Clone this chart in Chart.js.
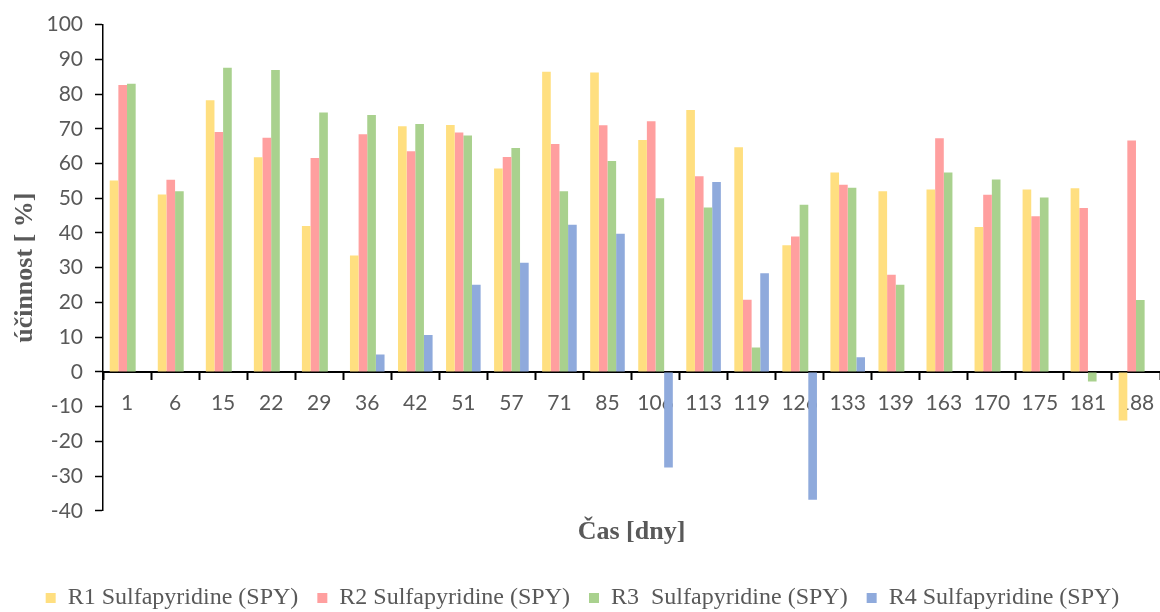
<!DOCTYPE html>
<html>
<head>
<meta charset="utf-8">
<script src="https://cdn.jsdelivr.net/npm/chart.js@4"></script>
<style>
  html, body { margin: 0; padding: 0; background: #fff; }
  #wrap { width: 1160px; height: 612px; }
</style>
</head>
<body>
<div id="wrap"><canvas id="myChart"></canvas></div>
<script>
// dny odberu
var days = ['1', '6', '15', '22', '29', '36', '42', '51', '57', '71', '85', '106', '113', '119', '126', '133', '139', '163', '170', '175', '181', '188'];

// ucinnost jednotlivych reaktoru [%]
var r1 = [55.1, 51.1, 78.2, 61.8, 42.0, 33.5, 70.7, 71.1, 58.6, 86.4, 86.2, 66.8, 75.4, 64.7, 36.5, 57.4, 52.0, 52.5, 41.7, 52.5, 52.9, -14.0];
var r2 = [82.6, 55.3, 69.1, 67.4, 61.6, 68.4, 63.5, 68.9, 61.9, 65.6, 71.0, 72.2, 56.3, 20.8, 39.0, 53.9, 28.0, 67.3, 51.0, 44.8, 47.2, 66.6];
var r3 = [83.0, 52.0, 87.6, 86.9, 74.7, 74.0, 71.4, 68.1, 64.5, 52.0, 60.7, 50.0, 47.3, 7.0, 48.1, 53.0, 25.1, 57.4, 55.4, 50.2, -2.8, 20.7];
var r4 = [null, null, null, null, null, 5.0, 10.6, 25.1, 31.4, 42.4, 39.8, -27.5, 54.7, 28.4, -36.8, 4.2, null, null, null, null, null, null];

var seriesNames = ['R1 Sulfapyridine (SPY)', 'R2 Sulfapyridine (SPY)', 'R3  Sulfapyridine (SPY)', 'R4 Sulfapyridine (SPY)'];
var yMin = -40, yMax = 100, yStep = 10;

var grey = '#595959';
var tickFont = { family: 'Lato', size: 21 };

var ctx = document.getElementById('myChart').getContext('2d');

var chart = new Chart(ctx, {
    type: 'bar',
    data: {
        labels: days,
        datasets: [{
            label: seriesNames[0],
            backgroundColor: '#FFDF80',
            data: r1
        },
        {
            label: seriesNames[1],
            backgroundColor: '#FF9F9F',
            data: r2
        },
        {
            label: seriesNames[2],
            backgroundColor: '#A9D18E',
            data: r3
        },
        {
            label: seriesNames[3],
            backgroundColor: '#8FAADC',
            data: r4
        }]
    },
    options: {
        responsive: true,
        maintainAspectRatio: false,
        animation: false,
        layout: {
            padding: { top: 23, right: -5, bottom: -8, left: 0 }
        },
        datasets: {
            bar: {
                categoryPercentage: 0.72,
                barPercentage: 1.0,
                borderWidth: 0
            }
        },
        scales: {
            x: {
                position: { y: 0 },
                // osa x sahá až k pravému okraji
                afterFit: function (scale) { scale.paddingLeft = 0; scale.paddingRight = 0; },
                grid: {
                    display: true,
                    offset: true,
                    drawOnChartArea: false,
                    drawTicks: true,
                    tickLength: 7,
                    tickWidth: 2,
                    tickColor: '#000'
                },
                border: { display: true, color: '#000', width: 2 },
                ticks: {
                    color: grey,
                    font: tickFont,
                    padding: 12,
                    maxRotation: 0,
                    autoSkip: false
                }
            },
            y: {
                min: yMin,
                max: yMax,
                afterFit: function (scale) { scale.width = 103; },
                grid: {
                    display: true,
                    drawOnChartArea: false,
                    drawTicks: true,
                    tickLength: 8,
                    tickWidth: 1.5,
                    tickColor: '#000'
                },
                border: { display: true, color: '#000', width: 1.5 },
                ticks: {
                    stepSize: yStep,
                    color: grey,
                    font: tickFont,
                    padding: 12
                },
                title: {
                    display: true,
                    text: 'účinnost [ %]',
                    color: grey,
                    font: { family: 'Liberation Serif', size: 26, weight: 'bold' },
                    padding: { top: 10, bottom: 0 }
                }
            }
        },
        plugins: {
            title: {
                display: true,
                position: 'bottom',
                fullSize: false,
                weight: 500,
                text: 'Čas [dny]',
                color: grey,
                font: { family: 'Liberation Serif', size: 26, weight: 'bold' },
                padding: { top: 6, bottom: 19 }
            },
            legend: {
                position: 'bottom',
                labels: {
                    color: grey,
                    font: { family: 'Liberation Serif', size: 24 },
                    boxWidth: 10,
                    boxHeight: 10,
                    padding: 19
                }
            },
            tooltip: { enabled: false }
        }
    }
});
</script>
</body>
</html>
